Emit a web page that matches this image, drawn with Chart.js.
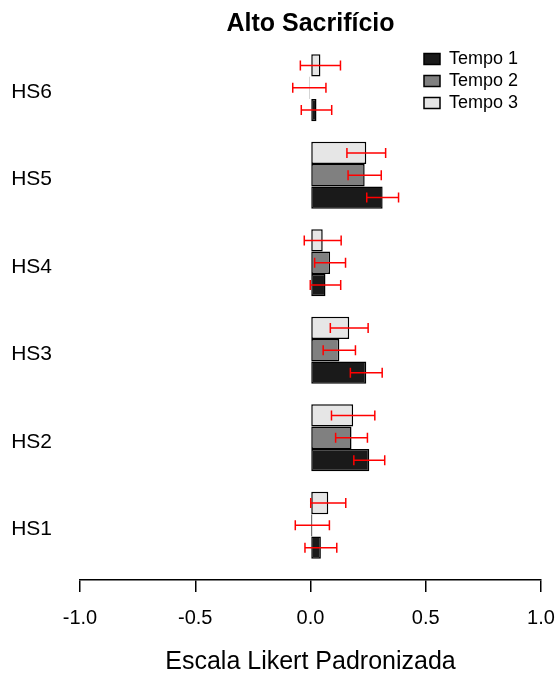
<!DOCTYPE html>
<html>
<head>
<meta charset="utf-8">
<script src="https://cdn.jsdelivr.net/npm/chart.js@4/dist/chart.umd.min.js"></script>
<style>
  body { margin: 0; background: #fff; }
</style>
</head>
<body>
<canvas id="myChart" width="560" height="675"></canvas>
<script>
// categories, top to bottom
const labels = ["HS6", "HS5", "HS4", "HS3", "HS2", "HS1"];

// standardized means per time point
const tempo1 = [0.026, 0.313, 0.065, 0.242, 0.255, 0.045];
const tempo2 = [-0.005, 0.235, 0.085, 0.125, 0.178, 0.008];
const tempo3 = [0.043, 0.242, 0.053, 0.168, 0.185, 0.077];

// error bar half widths
const erro1 = [0.066, 0.069, 0.066, 0.069, 0.067, 0.069];
const erro2 = [0.072, 0.072, 0.067, 0.070, 0.069, 0.074];
const erro3 = [0.087, 0.084, 0.080, 0.082, 0.094, 0.076];

const xTicks = [-1, -0.5, 0, 0.5, 1];

Chart.defaults.font.family = "'Liberation Sans', Arial, sans-serif";
Chart.defaults.color = "#000";

// red error bars drawn over the bars
const errorBars = {
  id: "errorBars",
  afterDatasetsDraw(chart) {
    const ctx = chart.ctx;
    const xs = chart.scales.x;
    ctx.save();
    ctx.strokeStyle = "#ff0000";
    ctx.lineWidth = 1.5;
    chart.data.datasets.forEach((ds, i) => {
      chart.getDatasetMeta(i).data.forEach((bar, j) => {
        const v = ds.data[j], e = ds.errors[j];
        const x0 = xs.getPixelForValue(v - e);
        const x1 = xs.getPixelForValue(v + e);
        const y = bar.y;
        ctx.beginPath();
        ctx.moveTo(x0, y); ctx.lineTo(x1, y);
        ctx.moveTo(x0, y - 5); ctx.lineTo(x0, y + 5);
        ctx.moveTo(x1, y - 5); ctx.lineTo(x1, y + 5);
        ctx.stroke();
      });
    });
    ctx.restore();
  }
};

// put the legend inside the plot, top right
const legendSpot = {
  id: "legendSpot",
  afterLayout(chart) {
    const l = chart.legend;
    l.left = 420;
    l.top = 46;
    l.right = l.left + l.width;
    l.bottom = l.top + l.height;
  }
};

const ctx = document.getElementById("myChart").getContext("2d");

new Chart(ctx, {
  type: "bar",
  data: {
    labels: labels,
    datasets: [
      { label: "Tempo 3", data: tempo3, errors: erro3, backgroundColor: "#e6e6e6" },
      { label: "Tempo 2", data: tempo2, errors: erro2, backgroundColor: "#808080" },
      { label: "Tempo 1", data: tempo1, errors: erro1, backgroundColor: "#1a1a1a" }
    ]
  },
  options: {
    indexAxis: "y",
    responsive: false,
    animation: false,
    devicePixelRatio: 1,
    datasets: {
      bar: {
        borderColor: "#000",
        borderWidth: 1.5,
        borderSkipped: false,
        barPercentage: 1,
        categoryPercentage: 0.766
      }
    },
    layout: { padding: { left: 0, right: 19, top: 0, bottom: 0 } },
    scales: {
      x: {
        min: -1,
        max: 1,
        afterBuildTicks: (s) => { s.ticks = xTicks.map((v) => ({ value: v })); },
        afterFit: (s) => { s.paddingLeft = 0; s.paddingRight = 0; },
        ticks: {
          font: { size: 20 },
          padding: 14,
          callback: (v) => Number(v).toFixed(1)
        },
        grid: {
          display: true,
          drawOnChartArea: false,
          drawTicks: true,
          tickLength: 12,
          color: "#000",
          lineWidth: 1.5
        },
        border: { display: true, color: "#000", width: 1.5 },
        title: {
          display: true,
          text: "Escala Likert Padronizada",
          font: { size: 25, lineHeight: 1 },
          padding: { top: 6, bottom: 0 }
        }
      },
      y: {
        afterBuildTicks: (s) => { s._valueRange = 6.125; },
        afterFit: (s) => { s.width = 80; },
        ticks: { font: { size: 21 }, padding: 28, labelOffset: 4 },
        grid: { display: false, drawTicks: false },
        border: { display: false }
      }
    },
    plugins: {
      title: {
        display: true,
        text: "Alto Sacrifício",
        fullSize: false,
        font: { size: 25, weight: "bold" },
        color: "#000",
        padding: { top: 9, bottom: 5 }
      },
      legend: {
        position: "chartArea",
        align: "start",
        reverse: true,
        labels: {
          boxWidth: 16,
          boxHeight: 11,
          padding: 4,
          font: { size: 18 },
          color: "#000"
        }
      },
      tooltip: { enabled: false }
    }
  },
  plugins: [errorBars, legendSpot]
});
</script>
</body>
</html>
